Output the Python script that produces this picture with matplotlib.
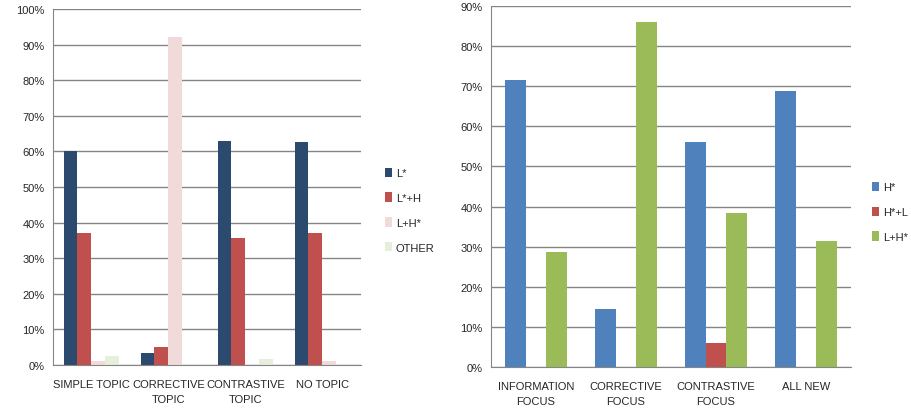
import numpy as np
import matplotlib
matplotlib.use("Agg")
import matplotlib.pyplot as plt
from matplotlib.ticker import FuncFormatter

# left panel: topic types
topic_cats = ["SIMPLE TOPIC", "CORRECTIVE\nTOPIC", "CONTRASTIVE\nTOPIC", "NO TOPIC"]
topic_series = ["L*", "L*+H", "L+H*", "OTHER"]
l_star = [60.0, 3.5, 62.8, 62.5]
l_star_h = [37.0, 5.0, 35.8, 37.0]
l_h_star = [1.0, 92.0, 0.0, 1.0]
other = [2.5, 0.0, 1.6, 0.0]

# right panel: focus types
focus_cats = ["INFORMATION\nFOCUS", "CORRECTIVE\nFOCUS", "CONTRASTIVE\nFOCUS", "ALL NEW"]
focus_series = ["H*", "H*+L", "L+H*"]
h_star = [71.5, 14.5, 56.0, 68.7]
h_star_l = [0.0, 0.0, 6.0, 0.0]
lh_star_f = [28.8, 86.0, 38.3, 31.5]

plt.rcParams['font.family'] = ['Liberation Sans', 'DejaVu Sans']
fig = plt.figure(figsize=(9.11, 4.14), dpi=100)
fig.patch.set_facecolor("white")

grid_col = "#858585"
txt_col = "#262626"


def style(ax, ymax):
    ax.set_ylim(0, ymax)
    ax.set_yticks(np.arange(0, ymax + 1, 10))
    ax.yaxis.set_major_formatter(FuncFormatter(lambda v, p: "%d%%" % v))
    ax.grid(axis='y', color=grid_col, linewidth=1)
    ax.set_axisbelow(True)
    for s in ['top', 'right']:
        ax.spines[s].set_visible(False)
    for s in ['left', 'bottom']:
        ax.spines[s].set_color(grid_col)
    ax.tick_params(length=0, labelsize=8, colors=txt_col, pad=6)
    ax.tick_params(axis='x', pad=10)


# left chart
ax1 = fig.add_axes([0.058, 0.116, 0.338, 0.86])
x = np.arange(len(topic_cats))
w = 0.18
cols1 = ["#2C4A6E", "#C0504D", "#F0DADA", "#E6EEDC"]
for i, (vals, lab) in enumerate(zip([l_star, l_star_h, l_h_star, other], topic_series)):
    ax1.bar(x + (i - 1.5) * w, vals, w, color=cols1[i], label=lab)
ax1.set_xlim(-0.5, len(topic_cats) - 0.5)
ax1.set_xticks(x)
ax1.set_xticklabels(topic_cats, linespacing=1.6)
style(ax1, 100)
ax1.legend(loc='center left', bbox_to_anchor=(1.045, 0.435), frameon=False,
           fontsize=8, handlelength=0.7, handleheight=0.9, handletextpad=0.3,
           labelspacing=1.3, labelcolor=txt_col)

# right chart
ax2 = fig.add_axes([0.539, 0.111, 0.395, 0.872])
x2 = np.arange(len(focus_cats))
w2 = 0.23
cols2 = ["#4F81BD", "#C0504D", "#9BBB59"]
for i, (vals, lab) in enumerate(zip([h_star, h_star_l, lh_star_f], focus_series)):
    ax2.bar(x2 + (i - 1) * w2, vals, w2, color=cols2[i], label=lab)
ax2.set_xlim(-0.5, len(focus_cats) - 0.5)
ax2.set_xticks(x2)
ax2.set_xticklabels(focus_cats, linespacing=1.6)
style(ax2, 90)
ax2.legend(loc='center left', bbox_to_anchor=(1.03, 0.43), frameon=False,
           fontsize=8, handlelength=0.7, handleheight=0.9, handletextpad=0.3,
           labelspacing=1.3, labelcolor=txt_col)

fig.savefig("out.png", dpi=100)
